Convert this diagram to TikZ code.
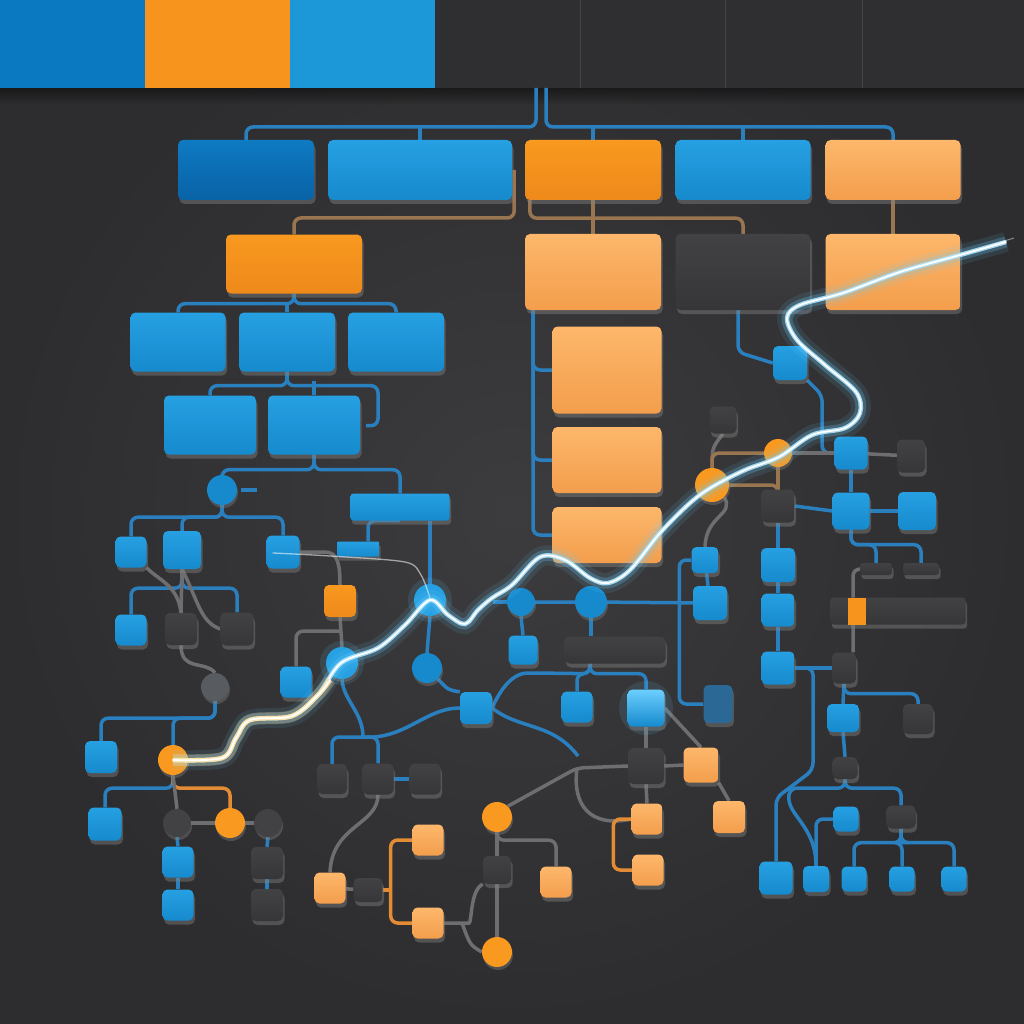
\documentclass[tikz,border=0pt]{standalone}
\usetikzlibrary{shadows}
\definecolor{bgin}{HTML}{3C3C3E}
\definecolor{bgout}{HTML}{2D2D2F}
\definecolor{bandk}{HTML}{2F2F31}
\definecolor{bandsep}{HTML}{454547}
\definecolor{bandb}{HTML}{0B78C2}
\definecolor{bando}{HTML}{F7941E}
\definecolor{bandc}{HTML}{1C97D8}
\definecolor{blueT}{HTML}{26A0E2}
\definecolor{blueB}{HTML}{168ACD}
\definecolor{dblueT}{HTML}{0E7AC2}
\definecolor{dblueB}{HTML}{0962A6}
\definecolor{orgT}{HTML}{F9991F}
\definecolor{orgB}{HTML}{EE891B}
\definecolor{lorgT}{HTML}{FDB76B}
\definecolor{lorgB}{HTML}{F39E4C}
\definecolor{darkT}{HTML}{424244}
\definecolor{darkB}{HTML}{363638}
\definecolor{greyN}{HTML}{585B60}
\definecolor{steelN}{HTML}{2B6896}
\definecolor{wireB}{HTML}{2A80BF}
\definecolor{wireG}{HTML}{6E6E70}
\definecolor{wireO}{HTML}{E38C34}
\definecolor{wireT}{HTML}{9A7650}
\definecolor{glowc}{HTML}{6CCFFF}
\definecolor{warmc}{HTML}{FFE3A6}
\pgfdeclarelayer{back}
\pgfdeclarelayer{wires}
\pgfdeclarelayer{glow}
\pgfsetlayers{back,wires,main,glow}
\begin{document}
\begin{tikzpicture}[x=1pt,y=-1pt,
  nbox/.style={rounded corners=5pt,inner sep=0pt,
    drop shadow={shadow xshift=1.5pt,shadow yshift=-4pt,opacity=.45}},
  bbox/.style={nbox,top color=blueT,bottom color=blueB},
  dbox/.style={nbox,top color=dblueT,bottom color=dblueB},
  obox/.style={nbox,top color=orgT,bottom color=orgB},
  lbox/.style={nbox,top color=lorgT,bottom color=lorgB},
  kbox/.style={nbox,top color=darkT,bottom color=darkB},
  nknob/.style={circle,inner sep=0pt,
    drop shadow={shadow xshift=1pt,shadow yshift=-3pt,opacity=.4}},
  bknob/.style={nknob,fill=blueB},
  oknob/.style={nknob,fill=orgT},
  kknob/.style={nknob,fill=darkT},
  wire/.style={line width=3.5pt,rounded corners=7pt},
  bwire/.style={wire,draw=wireB},
  gwire/.style={wire,draw=wireG},
  owire/.style={wire,draw=wireO},
  twire/.style={wire,draw=wireT}]

  \useasboundingbox (0,0) rectangle (1024,1024);

  % background and top band
  \begin{pgfonlayer}{back}
    \shade[inner color=bgin,outer color=bgout] (0,0) rectangle (1024,1024);
    \shade[top color=black,bottom color=bgout,opacity=.45] (0,88) rectangle (1024,104);
    \fill[bandb] (0,0) rectangle (145,88);
    \fill[bando] (145,0) rectangle (290,88);
    \fill[bandc] (290,0) rectangle (435,88);
    \fill[bandk] (435,0) rectangle (1024,88);
    \foreach \sx in {580,725,862}
      \draw[bandsep,line width=1pt] (\sx,0) -- (\sx,88);
  \end{pgfonlayer}

  % first two rows
  \node[dbox,minimum width=136pt,minimum height=60pt] (r1a) at (246,170) {};
  \node[bbox,minimum width=184pt,minimum height=60pt] (r1b) at (420,170) {};
  \node[obox,minimum width=136pt,minimum height=60pt] (r1c) at (593,170) {};
  \node[bbox,minimum width=135pt,minimum height=60pt] (r1d) at (743,170) {};
  \node[lbox,minimum width=135pt,minimum height=60pt] (r1e) at (893,170) {};

  \node[obox,minimum width=136pt,minimum height=59pt] (r2a) at (294,264) {};
  \node[lbox,minimum width=136pt,minimum height=76pt] (r2b) at (593,272) {};
  \node[kbox,minimum width=135pt,minimum height=76pt] (r2c) at (743,272) {};
  \node[lbox,minimum width=135pt,minimum height=76pt] (r2d) at (893,272) {};

  \node[bbox,minimum width=95pt,minimum height=59pt] (r3a) at (178,342) {};
  \node[bbox,minimum width=96pt,minimum height=59pt] (r3b) at (287,342) {};
  \node[bbox,minimum width=96pt,minimum height=59pt] (r3c) at (396,342) {};
  \node[bbox,minimum width=92pt,minimum height=59pt] (r4a) at (210,425) {};
  \node[bbox,minimum width=92pt,minimum height=59pt] (r4b) at (314,425) {};

  \node[lbox,minimum width=109pt,minimum height=87pt] (q1) at (607,370) {};
  \node[lbox,minimum width=109pt,minimum height=66pt] (q2) at (607,460) {};
  \node[lbox,minimum width=109pt,minimum height=56pt] (q3) at (607,535) {};

  % left cluster
  \node[bknob,minimum size=30pt] (c5) at (222,490) {};
  \node[bbox,rounded corners=3pt,minimum width=99pt,minimum height=27pt] (bar) at (400,507) {};
  \node[bbox,minimum size=31pt] (s1) at (131,552) {};
  \node[bbox,minimum size=38pt] (s2) at (182,550) {};
  \node[bbox,minimum size=33pt] (s3) at (283,552) {};
  \node[bbox,minimum size=31pt] (s4) at (131,630) {};
  \node[kbox,minimum size=32pt] (s5) at (181,629) {};
  \node[kbox,minimum size=33pt] (s6) at (237,629) {};
  \node[nknob,fill=greyN,minimum size=28pt] (g1) at (215,687) {};
  \node[bbox,minimum size=32pt] (t1) at (101,757) {};
  \node[oknob,minimum size=30pt] (o1) at (173,760) {};
  \node[bbox,minimum size=33pt] (t2) at (105,824) {};
  \node[kknob,minimum size=28pt] (k1) at (177,823) {};
  \node[oknob,minimum size=30pt] (o2) at (230,823) {};
  \node[kknob,minimum size=28pt] (k2) at (268,823) {};
  \node[bbox,minimum size=31pt] (t3) at (178,862) {};
  \node[bbox,minimum size=31pt] (t4) at (178,905) {};
  \node[kbox,minimum size=32pt] (t5) at (267,863) {};
  \node[kbox,minimum size=32pt] (t6) at (267,905) {};

  % middle cluster
  \node[bbox,rounded corners=1pt,minimum width=42pt,minimum height=15pt] (m1) at (358,549) {};
  \node[bknob,fill=blueT,minimum size=32pt] (b1) at (430,600) {};
  \node[bknob,minimum size=30pt] (b2) at (427,668) {};
  \node[obox,minimum size=32pt] (ob1) at (340,601) {};
  \node[bknob,fill=blueT,minimum size=32pt] (b3) at (342,663) {};
  \node[bbox,minimum size=31pt] (bb) at (296,682) {};
  \node[kbox,minimum size=30pt] (d1) at (332,779) {};
  \node[kbox,minimum size=31pt] (d2) at (378,779) {};
  \node[kbox,minimum size=31pt] (d3) at (425,779) {};
  \node[lbox,minimum size=31pt] (ob2) at (330,888) {};
  \node[kbox,minimum width=29pt,minimum height=24pt] (d4) at (368,890) {};
  \node[lbox,minimum size=31pt] (ob3) at (428,840) {};
  \node[lbox,minimum size=31pt] (ob4) at (428,923) {};
  \node[oknob,minimum size=30pt] (o3) at (497,817) {};
  \node[kbox,minimum size=28pt] (d5) at (497,870) {};
  \node[oknob,minimum size=30pt] (o4) at (497,952) {};
  \node[lbox,minimum size=31pt] (ob5) at (556,882) {};

  \node[bknob,minimum size=28pt] (b4) at (521,602) {};
  \node[bknob,minimum size=32pt] (b5) at (591,602) {};
  \node[bbox,minimum size=29pt] (e1) at (523,650) {};
  \node[kbox,minimum width=101pt,minimum height=27pt] (bar2) at (615,650) {};
  \node[bbox,minimum size=32pt] (e2) at (476,708) {};
  \node[bbox,minimum size=31pt] (e3) at (577,707) {};
  \node[bbox,top color=glowc,bottom color=blueB,minimum size=37pt] (e4) at (646,708) {};
  \node[nbox,fill=steelN,minimum width=29pt,minimum height=38pt] (e5) at (718,704) {};
  \node[kbox,minimum size=36pt] (d6) at (646,766) {};
  \node[lbox,minimum size=35pt] (ob6) at (701,765) {};
  \node[lbox,minimum size=31pt] (ob7) at (647,819) {};
  \node[lbox,minimum size=31pt] (ob8) at (648,870) {};
  \node[lbox,minimum size=32pt] (ob9) at (729,817) {};
  \node[bbox,minimum width=27pt,minimum height=26pt] (f1) at (705,560) {};
  \node[bbox,minimum size=34pt] (f2) at (710,603) {};

  % right cluster
  \node[bbox,minimum size=34pt] (h1) at (790,363) {};
  \node[kbox,minimum size=27pt] (h2) at (723,420) {};
  \node[oknob,minimum size=34pt] (o5) at (712,485) {};
  \node[oknob,minimum size=28pt] (o6) at (778,453) {};
  \node[bbox,minimum size=33pt] (j1) at (851,453) {};
  \node[kbox,minimum width=28pt,minimum height=33pt] (j2) at (911,456) {};
  \node[kbox,minimum size=33pt] (j3) at (778,506) {};
  \node[bbox,minimum size=37pt] (j4) at (851,511) {};
  \node[bbox,minimum size=38pt] (j5) at (917,511) {};
  \node[kbox,rounded corners=3pt,minimum width=32pt,minimum height=12pt] (j6) at (876,569) {};
  \node[kbox,rounded corners=3pt,minimum width=36pt,minimum height=12pt] (j7) at (921,569) {};
  \node[kbox,rounded corners=3pt,minimum width=135pt,minimum height=27pt] (bar3) at (898,611) {};
  \fill[bando] (848,598) rectangle (866,625);
  \node[kbox,minimum width=24pt,minimum height=31pt] (j8) at (844,668) {};
  \node[bbox,minimum size=34pt] (v1) at (778,565) {};
  \node[bbox,minimum size=33pt] (v2) at (778,610) {};
  \node[bbox,minimum size=33pt] (v3) at (778,668) {};
  \node[bbox,minimum width=32pt,minimum height=28pt] (w1) at (843,718) {};
  \node[kbox,minimum size=30pt] (w2) at (918,719) {};
  \node[kbox,minimum width=25pt,minimum height=22pt] (w3) at (845,768) {};
  \node[bbox,minimum size=25pt] (w4) at (846,819) {};
  \node[kbox,minimum width=29pt,minimum height=23pt] (w5) at (901,817) {};
  \node[bbox,minimum size=33pt] (u1) at (776,878) {};
  \node[bbox,minimum size=26pt] (u2) at (816,879) {};
  \node[bbox,minimum size=25pt] (u3) at (854,879) {};
  \node[bbox,minimum size=25pt] (u4) at (902,879) {};
  \node[bbox,minimum size=25pt] (u5) at (954,879) {};

  \coordinate (trunk) at (541,88);
  \coordinate (split1) at (363,737);
  \coordinate (split2) at (577,768);
  \coordinate (split3) at (462,923);
  \coordinate (tail1) at (578,756);

  \begin{pgfonlayer}{wires}
    % top tree
    \draw[bwire] ([xshift=-5pt]trunk) -- ++(0,39) -| (r1a.north);
    \draw[bwire] ([xshift=5pt]trunk) -- ++(0,39) -| (r1e.north);
    \draw[bwire] (r1b.north) -- ++(0,-13);
    \draw[bwire] (r1c.north) -- ++(0,-13);
    \draw[bwire] (r1d.north) -- ++(0,-13);
    \draw[twire] ([xshift=2pt]r1b.east) -- ++(0,48) -| (r2a.north);
    \draw[twire] ([xshift=5pt]r1c.south west) -- ++(0,18) -| (r2c.north);
    \draw[twire] (r1c.south) -- (r2b.north);
    \draw[twire] (r1e.south) -- (r2d.north);
    \draw[bwire] (r2a.south) -- ++(0,10) -| (r3a.north);
    \draw[bwire] (r2a.south) -- ++(0,10) -| (r3c.north);
    \draw[bwire] (r3b.north) -- ++(0,-10);
    \draw[bwire] (r3b.south) -- ++(0,14) -| (r4a.north);
    \draw[bwire] (r3b.south) -- ++(0,14) -- ++(91,0) -- ++(0,40) -- ++(-12,0);
    \draw[bwire] (r4b.north) -- ++(0,-14);
    \draw[bwire] (r4b.south) -- ++(0,15) -| (bar.north);
    \draw[bwire] (r4b.south) -- ++(0,15) -| (c5.north);
    \draw[bwire] (c5.east) ++(4,0) -- ++(16,0);
    % column of orange boxes
    \draw[bwire] ([xshift=-60pt]r2b.south) |- (q3.west);
    \draw[bwire] ([xshift=-60pt]r2b.south) |- (q1.west);
    \draw[bwire] ([xshift=-60pt]r2b.south) |- (q2.west);

    % left cluster
    \draw[bwire] (c5.south) -- ++(0,12) -| (s1.north);
    \draw[bwire] (c5.south) -- ++(0,12) -| (s2.north);
    \draw[bwire] (c5.south) -- ++(0,12) -| (s3.north);
    \draw[bwire] (s2.south) -- ++(0,19) -| (s4.north);
    \draw[bwire] (s2.south) -- ++(0,19) -| (s6.north);
    \draw[gwire] (s2.south) -- (s5.north);
    \draw[gwire] (s1.south east) .. controls (158,580) and (178,585) .. (s5.north);
    \draw[gwire] (s2.south) .. controls (198,600) and (200,622) .. (s6.west);
    \draw[gwire] (s5.south) .. controls (181,672) and (205,660) .. (g1.north);
    \draw[bwire] (g1.south) -- ++(0,17) -| (t1.north);
    \draw[bwire] (g1.south) -- ++(0,17) -| (o1.north);
    \draw[bwire] (o1.south) -- ++(0,13) -| (t2.north);
    \draw[owire] (o1.south) -- ++(0,13) -| (o2.north);
    \draw[gwire] (o1.south) -- (k1.north);
    \draw[gwire] (k1) -- (o2) -- (k2);
    \draw[bwire] (k1.south) -- (t3.north);
    \draw[bwire] (t3) -- (t4);
    \draw[bwire] (k2.south) -- (t5.north);
    \draw[bwire] (t5) -- (t6);

    % middle cluster
    \draw[bwire] ([xshift=10pt]m1.north) |- (bar.south);
    \draw[bwire] ([xshift=30pt]bar.south) -- (b1.north);
    \draw[bwire] (b1.south) -- (b2.north);
    \draw[gwire] (s3.east) -- (318,552) .. controls (338,552) and (340,565) .. (ob1.north);
    \draw[gwire] (ob1.south) -- (b3.north);
    \draw[gwire] (ob1.south) ++(0,14) -| (bb.north);
    \draw[bwire] (b3.south) .. controls (343,700) and (363,712) .. (split1);
    \draw[bwire] (split1) -| (d1.north);
    \draw[bwire] (split1) -| (d2.north);
    \draw[bwire] (d2) -- (d3);
    \draw[bwire] (split1) .. controls (405,740) and (425,708) .. (e2.west);
    \draw[bwire] (b2.south east) .. controls (448,690) .. (e2.north west);
    \draw[gwire] (d2.south) .. controls (378,825) and (332,825) .. (ob2.north);
    \draw[gwire] (ob2) -- (d4);
    \draw[owire] (d4.east) -- ++(8,0);
    \draw[owire] (ob3.west) -| ([xshift=8pt]d4.east) |- (ob4.west);
    \draw[gwire] (o3) -- (d5) -- (o4);
    \draw[gwire] (o3.north east) -- (split2) -- (d6.west);
    \draw[gwire] (split2) .. controls (572,805) and (590,828) .. (ob7.west);
    \draw[gwire] (o3.south) -- ++(0,8) -| (ob5.north);
    \draw[gwire] (ob4.east) -- (split3) .. controls (472,923) and (470,890) .. (d5.south west);
    \draw[gwire] (split3) .. controls (470,945) .. (o4.west);

    \draw[bwire] (b4.west) -- ++(-14,0);
    \draw[bwire] (b4) -- (b5) -- (f2);
    \draw[bwire] (b4.south) -- (e1.north);
    \draw[bwire] (b5.south) -- (b5.south |- bar2.north);
    \draw[bwire] ([xshift=-25pt]bar2.south) -- ++(0,10) -| (e4.north);
    \draw[bwire] ([xshift=-25pt]bar2.south) -- ++(0,10) -| (e3.north);
    \draw[bwire] ([xshift=-25pt]bar2.south) -- ++(0,10) -- (535,673) .. controls (512,673) and (500,690) .. (e2.east);
    \draw[bwire] (e2.east) .. controls (520,730) and (552,722) .. (tail1);
    \draw[gwire] (e4.south) -- (d6.north);
    \draw[gwire] (d6.east) -- (ob6.west);
    \draw[gwire] (e4.east) -- (ob6.north);
    \draw[gwire] (d6.south) -- (ob7.north);
    \draw[owire] (ob7.west) -- ++(-18,0) |- (ob8.west);
    \draw[gwire] (ob6.south east) -- (ob9.north);
    \draw[bwire] (f1) -- (f2);
    \draw[bwire] (f1.west) -- ++(-12,0) |- (e5.west);

    % right cluster
    \draw[bwire] ([xshift=-5pt]r2c.south) -- ++(0,42) -- (h1.west);
    \draw[bwire] (h1.south east) -- ++(15,15) |- (j1.west);
    \draw[gwire] (h2.south) .. controls (712,448) .. (o5.north);
    \draw[twire] (o5.north) |- (o6.west);
    \draw[twire] (o5.east) -| (j3.north);
    \draw[twire] (o6.south) -- (j3.north);
    \draw[gwire] (o6.east) -- (j1.west);
    \draw[gwire] (j1) -- (j2);
    \draw[gwire] (o5.south east) .. controls (735,515) and (706,515) .. (f1.north);
    \draw[bwire] (j1.south) -- (j4.north);
    \draw[bwire] (j3.east) -- (j4.west);
    \draw[bwire] (j4) -- (j5);
    \draw[bwire] (j3.south) -- (v1.north);
    \draw[bwire] (v1) -- (v2) -- (v3);
    \draw[bwire] (j4.south) -- ++(0,15) -| (j7.north);
    \draw[bwire] (j4.south) -- ++(0,15) -| (j6.north);
    \draw[gwire] (j6.west) -| ([xshift=9pt]j8.north);
    \draw[bwire] (v3.east) -- (j8.west);
    \draw[bwire] (j8.south) -- (w1.north);
    \draw[bwire] (j8.south) -- ++(0,10) -| (w2.north);
    \draw[bwire] (w1.south) -- (w3.north);
    \draw[bwire] (w3.south) -- ++(0,9) -| (w5.north);
    \draw[bwire] (w3.south) -- ++(0,9) -- (790,788) .. controls (786,815) and (816,825) .. (u2.north);
    \draw[bwire] (w4.west) -| (u2.north);
    \draw[bwire] (v3.east) -| (813,770) -- (776,798) -- (u1.north);
    \draw[bwire] (w5.south) -- ++(0,14) -| (u3.north);
    \draw[bwire] (w5.south) -- ++(0,14) -| (u4.north);
    \draw[bwire] (w5.south) -- ++(0,14) -| (u5.north);

    % halo of the lit box
    \fill[glowc,opacity=.12] (e4) circle (27);
    \fill[glowc,opacity=.12] (b1) circle (22);
    \fill[glowc,opacity=.12] (b3) circle (22);
  \end{pgfonlayer}

  % the lit trace
  \begin{pgfonlayer}{glow}
    \draw[white,opacity=.55,line width=1.3pt,line cap=round]
      plot[smooth,tension=.5] coordinates {(273,553) (330,556) (405,562) (421,575) (430,598)};
    \draw[white,line width=1.8pt,line cap=round,
      preaction={draw=glowc,line width=20pt,opacity=.10},
      preaction={draw=glowc,line width=11pt,opacity=.25},
      preaction={draw=glowc!55!white,line width=4.5pt,opacity=.9}]
      plot[smooth,tension=.55] coordinates {(173,760) (222,758) (236,738) (250,720)
        (292,716) (318,695) (341,663) (378,648) (405,625) (430,600) (448,615)
        (465,624) (478,610) (492,598) (512,585) (540,557) (565,560) (590,578)
        (608,583) (630,570) (660,533) (690,503) (712,487) (745,470) (779,457)
        (812,435) (845,428) (860,413) (856,392) (825,365) (797,340) (787,318)
        (800,305) (843,293) (900,272) (960,255) (1006,242)};
    \draw[white,line width=1.8pt,line cap=round,
      preaction={draw=warmc,line width=12pt,opacity=.25},
      preaction={draw=warmc,line width=4.5pt,opacity=.95}]
      plot[smooth,tension=.55] coordinates {(173,760) (222,758) (236,738) (250,720)
        (292,716) (318,695) (330,680)};
    \draw[white,opacity=.45,line width=1pt] (960,255) -- (1014,238);
  \end{pgfonlayer}
\end{tikzpicture}
\end{document}
